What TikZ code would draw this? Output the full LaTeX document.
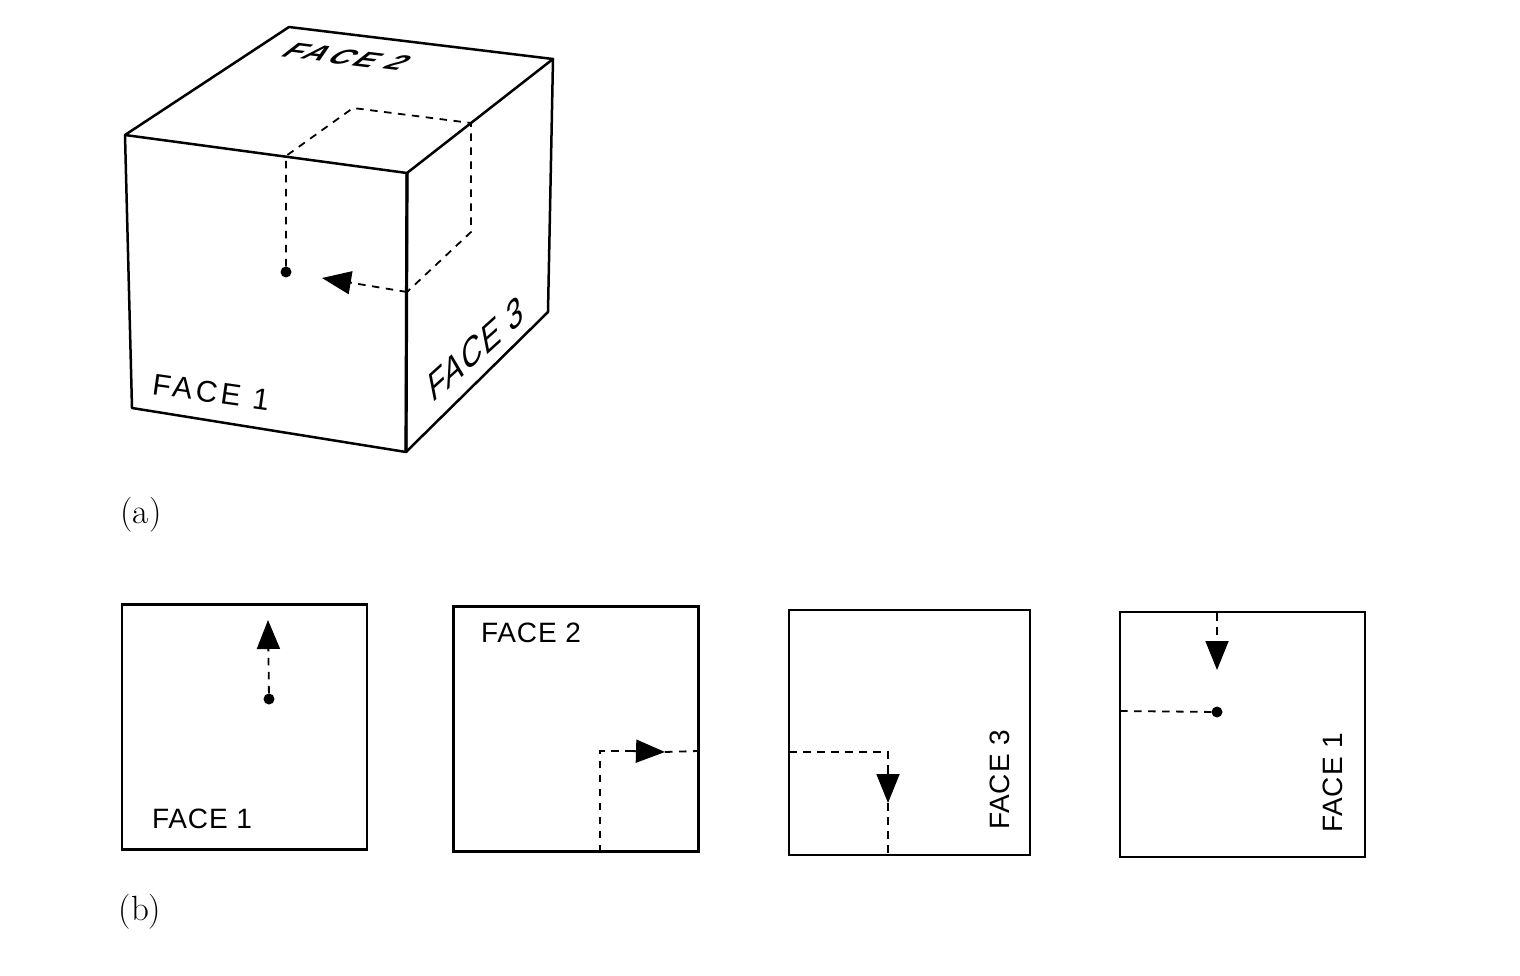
\documentclass[tikz,border=0pt]{standalone}
\usepackage{fontspec}
\newfontfamily\handfont{Liberation Sans}
\usetikzlibrary{arrows.meta}
\tikzset{
  edge/.style={line width=2.5pt,line join=round,line cap=round},
  dashline/.style={line width=1.8pt,dash pattern=on 7.5pt off 6.5pt},
  tipped/.style={dashline,-{Triangle[length=29pt,width=23pt]}},
  panel/.style={draw,line width=2.5pt,inner sep=0pt,minimum width=#1,minimum height=245pt},
  spot/.style={circle,fill=black,inner sep=0pt,minimum size=11pt},
  flatlabel/.style={inner sep=0pt,font=\fontsize{28}{30}\selectfont\handfont\addfontfeature{LetterSpace=3}},
  caption/.style={inner sep=0pt,font=\fontsize{35}{37}\selectfont}
}
\begin{document}
\begin{tikzpicture}[x=1pt,y=-1pt]
\path[use as bounding box,fill=white] (0,0) rectangle (1520,976);
% cube
\coordinate (tb) at (289,27);
\coordinate (tr) at (553,59);
\coordinate (tl) at (125,135);
\coordinate (tf) at (407,173);
\coordinate (bl) at (132,408);
\coordinate (bf) at (406,452);
\coordinate (br) at (548,312);
\draw[edge] (tl) -- (tb) -- (tr) -- (tf) -- cycle;
\draw[edge] (tl) -- (bl) -- (bf) -- (tf);
\draw[edge] (bf) -- (br) -- (tr);
\draw[line width=3.2pt] (tf) -- (bf);
% cube path
\node[spot] (cdot) at (286,272) {};
\coordinate (c1) at (286,156);
\coordinate (c2) at (353,108);
\coordinate (c3) at (471,123);
\coordinate (c4) at (471,232);
\coordinate (c5) at (407,292);
\coordinate (c6) at (322,278);
\draw[dashline] (cdot) -- (c1) -- (c2) -- (c3) -- (c4) -- (c5);
\draw[tipped] (c5) -- (c6);
% cube labels
\node[inner sep=0pt,rotate=-8,font=\fontsize{30}{32}\selectfont\handfont\addfontfeature{LetterSpace=12}] (lab1) at (211,392) {FACE 1};
\node[inner sep=0pt,rotate=-7,xslant=1,yscale=.75,font=\fontsize{30}{32}\selectfont\handfont\bfseries\addfontfeature{LetterSpace=12}] (lab2) at (347,57) {FACE 2};
\node[inner sep=0pt,rotate=42,xslant=.6,font=\fontsize{34}{36}\selectfont\handfont\addfontfeature{LetterSpace=5}] (lab3) at (476,349) {FACE 3};
\node[caption] (capa) at (141,515) {(a)};
\node[caption] (capb) at (140,912) {(b)};
% panel 1
\node[panel=245pt] (p1) at (244.5,727) {};
\node[spot] (d1) at (269,699) {};
\coordinate (a1) at (268,620);
\draw[tipped] (d1) -- (a1);
\node[flatlabel] (l1) at (202,819) {FACE 1};
% panel 2
\node[panel=245pt] (p2) at (576,729) {};
\coordinate (e2) at (600,852);
\coordinate (k2) at (600,751);
\coordinate (a2) at (665,752);
\coordinate (r2) at (698,751);
\coordinate (m2) at (630,751);
\draw[dashline] (e2) -- (k2) -- (m2);
\draw[tipped] (m2) -- (a2);
\draw[dashline] (a2) -- (r2);
\node[flatlabel] (l2) at (531,633) {FACE 2};
% panel 3
\node[panel=241pt] (p3) at (909.5,732.5) {};
\coordinate (e3) at (789,752);
\coordinate (k3) at (888,752);
\coordinate (m3) at (888,770);
\coordinate (a3) at (888,803);
\coordinate (b3) at (888,855);
\draw[dashline] (e3) -- (k3) -- (m3);
\draw[tipped] (m3) -- (a3);
\draw[dashline] (a3) -- (b3);
\node[flatlabel,rotate=90] (l3) at (1000,780) {FACE 3};
% panel 4
\node[panel=245pt] (p4) at (1242.5,734.5) {};
\coordinate (t4) at (1217,613);
\coordinate (a4) at (1217,670);
\coordinate (e4) at (1120,711);
\node[spot] (d4) at (1217,712) {};
\draw[tipped] (t4) -- (a4);
\draw[dashline] (e4) -- (d4);
\node[flatlabel,rotate=90] (l4) at (1333,783) {FACE 1};
\end{tikzpicture}
\end{document}
